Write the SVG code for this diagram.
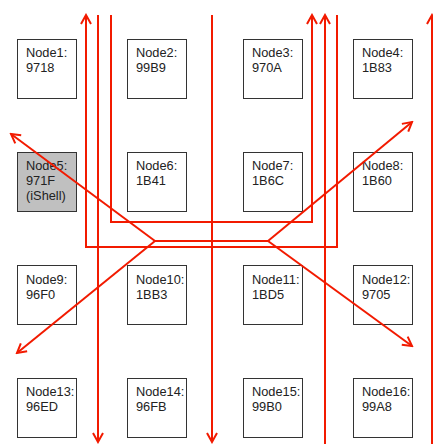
<svg xmlns="http://www.w3.org/2000/svg" width="433" height="444" viewBox="0 0 433 444">
<style>
.box{fill:#fff;stroke:#333;stroke-width:1}
.shell{fill:#c0c0c0}
.t{font-family:"Liberation Sans",Arial,sans-serif;font-size:12.8px;fill:#222}
.c{fill:none;stroke:#f21a00;stroke-width:2}
</style>
<defs>
<marker id="a" markerUnits="userSpaceOnUse" markerWidth="14" markerHeight="14" viewBox="-12 -7 14 14" refX="0" refY="0" orient="auto">
<path d="M-9,-5 L0,0 L-9,5" fill="none" stroke="#f21a00" stroke-width="2"/>
</marker>
</defs>
<rect width="433" height="444" fill="#fff"/>
<g id="node1"><rect class="box" x="17.5" y="39.5" width="59" height="59"/><text class="t" x="26" y="57">Node1:<tspan x="26" dy="15">9718</tspan></text></g>
<g id="node2"><rect class="box" x="127.5" y="39.5" width="59" height="59"/><text class="t" x="136" y="57">Node2:<tspan x="136" dy="15">99B9</tspan></text></g>
<g id="node3"><rect class="box" x="243.5" y="39.5" width="59" height="59"/><text class="t" x="252" y="57">Node3:<tspan x="252" dy="15">970A</tspan></text></g>
<g id="node4"><rect class="box" x="353.5" y="39.5" width="59" height="59"/><text class="t" x="362" y="57">Node4:<tspan x="362" dy="15">1B83</tspan></text></g>
<g id="node5"><rect class="box shell" x="17.5" y="152.5" width="59" height="59"/><text class="t" x="26" y="170">Node5:<tspan x="26" dy="15">971F</tspan><tspan x="26" dy="15">(iShell)</tspan></text></g>
<g id="node6"><rect class="box" x="127.5" y="152.5" width="59" height="59"/><text class="t" x="136" y="170">Node6:<tspan x="136" dy="15">1B41</tspan></text></g>
<g id="node7"><rect class="box" x="243.5" y="152.5" width="59" height="59"/><text class="t" x="252" y="170">Node7:<tspan x="252" dy="15">1B6C</tspan></text></g>
<g id="node8"><rect class="box" x="353.5" y="152.5" width="59" height="59"/><text class="t" x="362" y="170">Node8:<tspan x="362" dy="15">1B60</tspan></text></g>
<g id="node9"><rect class="box" x="17.5" y="265.5" width="59" height="59"/><text class="t" x="26" y="284">Node9:<tspan x="26" dy="15">96F0</tspan></text></g>
<g id="node10"><rect class="box" x="127.5" y="265.5" width="59" height="59"/><text class="t" x="136" y="284">Node10:<tspan x="136" dy="15">1BB3</tspan></text></g>
<g id="node11"><rect class="box" x="243.5" y="265.5" width="59" height="59"/><text class="t" x="252" y="284">Node11:<tspan x="252" dy="15">1BD5</tspan></text></g>
<g id="node12"><rect class="box" x="353.5" y="265.5" width="59" height="59"/><text class="t" x="362" y="284">Node12:<tspan x="362" dy="15">9705</tspan></text></g>
<g id="node13"><rect class="box" x="17.5" y="378.5" width="59" height="59"/><text class="t" x="26" y="396">Node13:<tspan x="26" dy="15">96ED</tspan></text></g>
<g id="node14"><rect class="box" x="127.5" y="378.5" width="59" height="59"/><text class="t" x="136" y="396">Node14:<tspan x="136" dy="15">96FB</tspan></text></g>
<g id="node15"><rect class="box" x="243.5" y="378.5" width="59" height="59"/><text class="t" x="252" y="396">Node15:<tspan x="252" dy="15">99B0</tspan></text></g>
<g id="node16"><rect class="box" x="353.5" y="378.5" width="59" height="59"/><text class="t" x="362" y="396">Node16:<tspan x="362" dy="15">99A8</tspan></text></g>
<g id="connectors">
<path class="c" d="M337,15 V247 H86 V15" marker-end="url(#a)"/>
<path class="c" d="M111,15 V222 H312 V15" marker-end="url(#a)"/>
<path class="c" d="M98,15 V442" marker-end="url(#a)"/>
<path class="c" d="M212,15 V442" marker-end="url(#a)"/>
<path class="c" d="M325,444 V15" marker-end="url(#a)"/>
<path class="c" d="M432,444 V15" marker-end="url(#a)"/>
<path class="c" d="M155,241 H268"/>
<path class="c" d="M155,241 L11,134" marker-end="url(#a)"/>
<path class="c" d="M155,241 L17,353" marker-end="url(#a)"/>
<path class="c" d="M268,241 L412,122" marker-end="url(#a)"/>
<path class="c" d="M268,241 L412,346" marker-end="url(#a)"/>
</g>
</svg>
